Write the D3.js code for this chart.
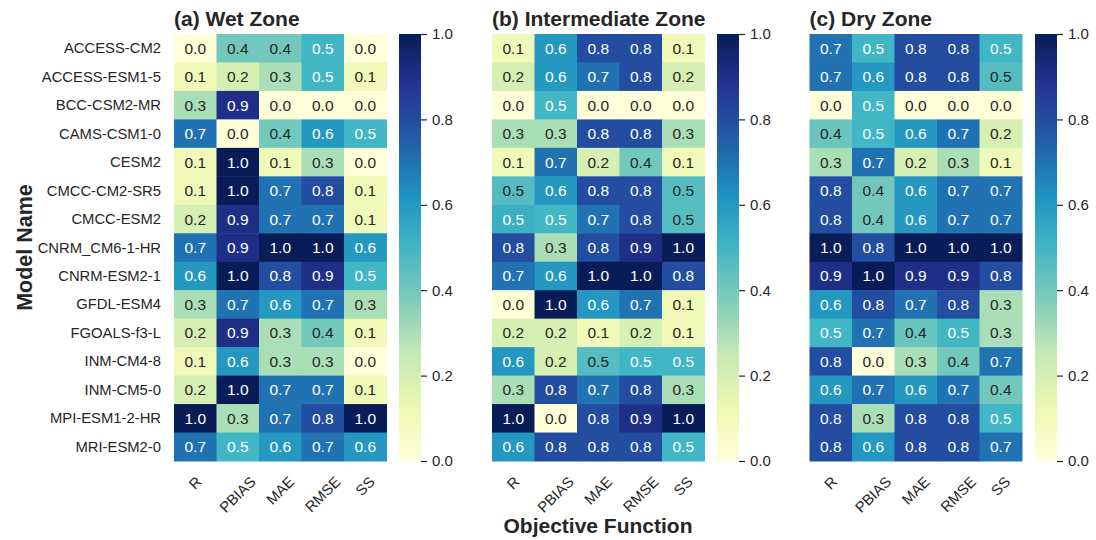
<!DOCTYPE html>
<html>
<head>
<meta charset="utf-8">
<script src="https://cdn.jsdelivr.net/npm/d3@7"></script>
<style>
  body { margin: 0; background: #fff; }
  text { font-family: "Liberation Sans", Arial, sans-serif; }
</style>
</head>
<body>
<div class="canvas"></div>
<script>
// Data
const models = ["ACCESS-CM2", "ACCESS-ESM1-5", "BCC-CSM2-MR", "CAMS-CSM1-0", "CESM2",
  "CMCC-CM2-SR5", "CMCC-ESM2", "CNRM_CM6-1-HR", "CNRM-ESM2-1", "GFDL-ESM4",
  "FGOALS-f3-L", "INM-CM4-8", "INM-CM5-0", "MPI-ESM1-2-HR", "MRI-ESM2-0"];
const metrics = ["R", "PBIAS", "MAE", "RMSE", "SS"];

const wetValues = [
  [0.0, 0.4, 0.4, 0.5, 0.0],
  [0.1, 0.2, 0.3, 0.5, 0.1],
  [0.3, 0.9, 0.0, 0.0, 0.0],
  [0.7, 0.0, 0.4, 0.6, 0.5],
  [0.1, 1.0, 0.1, 0.3, 0.0],
  [0.1, 1.0, 0.7, 0.8, 0.1],
  [0.2, 0.9, 0.7, 0.7, 0.1],
  [0.7, 0.9, 1.0, 1.0, 0.6],
  [0.6, 1.0, 0.8, 0.9, 0.5],
  [0.3, 0.7, 0.6, 0.7, 0.3],
  [0.2, 0.9, 0.3, 0.4, 0.1],
  [0.1, 0.6, 0.3, 0.3, 0.0],
  [0.2, 1.0, 0.7, 0.7, 0.1],
  [1.0, 0.3, 0.7, 0.8, 1.0],
  [0.7, 0.5, 0.6, 0.7, 0.6]
];
const intermediateValues = [
  [0.1, 0.6, 0.8, 0.8, 0.1],
  [0.2, 0.6, 0.7, 0.8, 0.2],
  [0.0, 0.5, 0.0, 0.0, 0.0],
  [0.3, 0.3, 0.8, 0.8, 0.3],
  [0.1, 0.7, 0.2, 0.4, 0.1],
  [0.46, 0.6, 0.8, 0.8, 0.46],
  [0.52, 0.5, 0.7, 0.8, 0.46],
  [0.8, 0.3, 0.8, 0.9, 1.0],
  [0.7, 0.6, 1.0, 1.0, 0.8],
  [0.0, 1.0, 0.6, 0.7, 0.1],
  [0.2, 0.2, 0.1, 0.2, 0.1],
  [0.6, 0.2, 0.46, 0.5, 0.5],
  [0.3, 0.8, 0.7, 0.8, 0.3],
  [1.0, 0.0, 0.8, 0.9, 1.0],
  [0.6, 0.8, 0.8, 0.8, 0.5]
];
const dryValues = [
  [0.7, 0.5, 0.8, 0.8, 0.5],
  [0.7, 0.6, 0.8, 0.8, 0.46],
  [0.0, 0.5, 0.0, 0.0, 0.0],
  [0.42, 0.5, 0.6, 0.7, 0.2],
  [0.3, 0.7, 0.2, 0.3, 0.1],
  [0.8, 0.4, 0.6, 0.7, 0.7],
  [0.8, 0.4, 0.6, 0.7, 0.7],
  [1.0, 0.8, 1.0, 1.0, 1.0],
  [0.9, 1.0, 0.9, 0.9, 0.8],
  [0.6, 0.8, 0.7, 0.8, 0.3],
  [0.5, 0.7, 0.42, 0.5, 0.3],
  [0.8, 0.0, 0.3, 0.4, 0.7],
  [0.6, 0.7, 0.6, 0.7, 0.4],
  [0.8, 0.3, 0.8, 0.8, 0.5],
  [0.8, 0.6, 0.8, 0.8, 0.7]
];
const panelTitles = ["(a) Wet Zone", "(b) Intermediate Zone", "(c) Dry Zone"];
const colorbarTicks = [0.0, 0.2, 0.4, 0.6, 0.8, 1.0];

// Settings
const width = 1096, height = 540;
const heat_top = 34, heat_bottom = 461;
const heat_width = 212.5;
const panel_left = [174, 492, 809.5];
const cbar_left = [399, 717, 1035];
const cbar_width = 22;
const dark_text = "#262626";
const font_family = '"Liberation Sans", Arial, sans-serif';

const panels = [
  {title: panelTitles[0], values: wetValues},
  {title: panelTitles[1], values: intermediateValues},
  {title: panelTitles[2], values: dryValues}
];

// YlGnBu, linear through the 9 ColorBrewer stops (like matplotlib)
const ylgnbu = d3.schemeYlGnBu[9];
const color = d3.scaleLinear()
  .domain(d3.range(9).map(i => i / 8))
  .range(ylgnbu)
  .clamp(true);

function luminance(c) {
  const rgb = d3.rgb(c);
  const lin = v => { v = v / 255; return v <= 0.03928 ? v / 12.92 : Math.pow((v + 0.055) / 1.055, 2.4); };
  return 0.2126 * lin(rgb.r) + 0.7152 * lin(rgb.g) + 0.0722 * lin(rgb.b);
}

const svg = d3.select(".canvas").append("svg")
  .attr("width", width)
  .attr("height", height);

const defs = svg.append("defs");
const grad = defs.append("linearGradient")
  .attr("id", "cbar-grad")
  .attr("x1", 0).attr("y1", 1).attr("x2", 0).attr("y2", 0);
grad.selectAll("stop")
  .data(ylgnbu)
  .enter()
  .append("stop")
  .attr("offset", (d, i) => (i / 8 * 100) + "%")
  .attr("stop-color", d => d);

const y = d3.scaleBand().domain(models).range([heat_top, heat_bottom]);
const fmt = d3.format(".1f");

panels.forEach(function(p, pi) {
  const x = d3.scaleBand().domain(metrics).range([panel_left[pi], panel_left[pi] + heat_width]);
  const g = svg.append("g");

  const cells = [];
  p.values.forEach((row, ri) => row.forEach((v, ci) => {
    cells.push({model: models[ri], metric: metrics[ci], value: v});
  }));

  g.selectAll("rect.cell")
    .data(cells)
    .enter()
    .append("rect")
    .attr("class", "cell")
    .attr("x", d => x(d.metric))
    .attr("y", d => y(d.model))
    .attr("width", x.bandwidth() + 0.5)
    .attr("height", y.bandwidth() + 0.5)
    .attr("fill", d => color(d.value));

  g.selectAll("text.annot")
    .data(cells)
    .enter()
    .append("text")
    .attr("class", "annot")
    .attr("x", d => x(d.metric) + x.bandwidth() / 2)
    .attr("y", d => y(d.model) + y.bandwidth() / 2)
    .attr("text-anchor", "middle")
    .attr("dominant-baseline", "central")
    .attr("font-size", "15.5px")
    .attr("fill", d => luminance(color(d.value)) > 0.408 ? dark_text : "#ffffff")
    .text(d => fmt(d.value));

  // title
  g.append("text")
    .attr("x", panel_left[pi])
    .attr("y", 26)
    .attr("font-size", "21px")
    .attr("font-weight", "bold")
    .attr("fill", dark_text)
    .text(p.title);

  // x tick labels, rotated 45 deg, centred under the column
  g.selectAll("text.xtick")
    .data(metrics)
    .enter()
    .append("text")
    .attr("class", "xtick")
    .attr("font-size", "14.8px")
    .attr("fill", dark_text)
    .attr("text-anchor", "middle")
    .attr("dominant-baseline", "central")
    .text(d => d)
    .attr("transform", function(d) {
      const len = this.getComputedTextLength();
      const half = (len + 14.8) * Math.SQRT1_2 / 2;
      return "translate(" + (x(d) + x.bandwidth() / 2) + "," + (474 + half) + ") rotate(-45)";
    });

  // colorbar
  const cb = svg.append("g");
  cb.append("rect")
    .attr("x", cbar_left[pi])
    .attr("y", heat_top)
    .attr("width", cbar_width)
    .attr("height", heat_bottom - heat_top)
    .attr("fill", "url(#cbar-grad)");

  const cbScale = d3.scaleLinear().domain([0, 1]).range([heat_bottom, heat_top]);
  const cbAxis = cb.append("g")
    .attr("transform", "translate(" + (cbar_left[pi] + cbar_width) + ",0)")
    .call(d3.axisRight(cbScale).tickValues(colorbarTicks).tickFormat(fmt).tickSize(6).tickPadding(5));
  cbAxis.select(".domain").remove();
  cbAxis.selectAll("line").attr("stroke", dark_text).attr("stroke-width", 1.2);
  cbAxis.selectAll("text")
    .attr("font-size", "15px")
    .attr("font-family", font_family)
    .attr("fill", dark_text);
});

// y tick labels (only first panel)
svg.append("g")
  .selectAll("text.ytick")
  .data(models)
  .enter()
  .append("text")
  .attr("class", "ytick")
  .attr("x", 161)
  .attr("y", d => y(d) + y.bandwidth() / 2)
  .attr("text-anchor", "end")
  .attr("dominant-baseline", "central")
  .attr("font-size", "14.8px")
  .attr("fill", dark_text)
  .text(d => d);

// axis titles
svg.append("text")
  .attr("transform", "translate(32," + ((heat_top + heat_bottom) / 2) + ") rotate(-90)")
  .attr("text-anchor", "middle")
  .attr("font-size", "21.5px")
  .attr("font-weight", "bold")
  .attr("fill", dark_text)
  .text("Model Name");

svg.append("text")
  .attr("x", 598)
  .attr("y", 533)
  .attr("text-anchor", "middle")
  .attr("font-size", "21px")
  .attr("font-weight", "bold")
  .attr("fill", dark_text)
  .text("Objective Function");
</script>
</body>
</html>
